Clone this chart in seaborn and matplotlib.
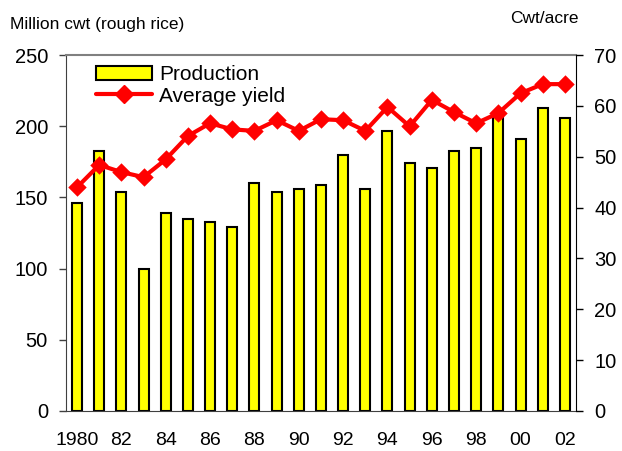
import numpy as np
import pandas as pd
import matplotlib
matplotlib.use('Agg')
import matplotlib.pyplot as plt
import seaborn as sns
from matplotlib.lines import Line2D
from matplotlib.patches import Patch

years = [str(y) for y in range(1980, 2003)]
production = [146, 183, 154, 100, 139, 135, 133, 129, 160, 154, 156, 159,
              180, 156, 197, 174, 171, 183, 185, 207, 191, 213, 206]
avg_yield = [44.0, 48.4, 47.0, 46.0, 49.5, 54.1, 56.6, 55.4, 55.1, 57.2, 55.1, 57.4,
             57.2, 55.1, 59.8, 56.0, 61.2, 58.8, 56.6, 58.6, 62.5, 64.3, 64.3]
tick_labels = ['1980', '', '82', '', '84', '', '86', '', '88', '', '90', '',
               '92', '', '94', '', '96', '', '98', '', '00', '', '02']

sns.set_style('white')
plt.rcParams['font.family'] = ['Liberation Sans', 'DejaVu Sans']
plt.rcParams['text.color'] = 'black'
plt.rcParams['xtick.color'] = 'black'
plt.rcParams['ytick.color'] = 'black'

df = pd.DataFrame({'year': years, 'production': production, 'yield': avg_yield})

fig = plt.figure(figsize=(6.22, 4.51), dpi=100)
ax = fig.add_axes([0.106, 0.0887, 0.82, 0.789])

sns.barplot(data=df, x='year', y='production', ax=ax, color='#ffff00',
            edgecolor='black', linewidth=1.5, width=0.45, saturation=1)
ax.set_ylim(0, 250)
ax.set_yticks(np.arange(0, 251, 50))
ax.set_xlim(-0.5, len(years) - 0.5)
ax.set_xlabel('')
ax.set_ylabel('')

ax2 = ax.twinx()
sns.pointplot(data=df, x='year', y='yield', ax=ax2, color='#ff0000',
              markers='D', linestyles='-', markersize=7, linewidth=3)
ax2.set_ylim(0, 70)
ax2.set_yticks(np.arange(0, 71, 10))
ax2.set_ylabel('')
ax2.set_xlim(-0.5, len(years) - 0.5)

# x ticks: labels at centres, tick marks at category boundaries
ax.set_xticks(np.arange(len(years)))
ax.set_xticklabels(tick_labels, fontsize=14)
ax.tick_params(axis='x', length=0, pad=15, labelcolor='black')
ax.set_xticks(np.arange(-0.5, len(years), 1), minor=True)
ax.tick_params(axis='x', which='minor', length=5, width=1, color='#404040', direction='out')

ax.tick_params(axis='y', labelsize=14.5, length=5, width=1, color='#404040',
               direction='out', left=True, pad=8, labelcolor='black')
ax2.tick_params(axis='y', labelsize=14.5, length=5, width=1, color='black',
                direction='out', right=True, pad=8, labelcolor='black')

for a in (ax, ax2):
    for s in a.spines.values():
        s.set_visible(False)
ax.spines['left'].set_visible(True)
ax.spines['left'].set_color('#404040')
ax.spines['bottom'].set_visible(True)
ax.spines['bottom'].set_color('#404040')
ax.spines['top'].set_visible(True)
ax.spines['top'].set_color('#808080')
ax.spines['top'].set_linewidth(1.5)
ax2.spines['right'].set_visible(True)
ax2.spines['right'].set_color('black')

handles = [Patch(facecolor='#ffff00', edgecolor='black', linewidth=1.5),
           Line2D([0], [0], color='#ff0000', lw=3, marker='D', markersize=9)]
ax2.legend(handles, ['Production', 'Average yield'], loc='upper left',
           bbox_to_anchor=(0.03, 1.012), frameon=False, fontsize=15,
           handlelength=2.7, handletextpad=0.35, labelspacing=0.1,
           borderaxespad=0.3)

fig.text(0.016, 0.945, 'Million cwt (rough rice)', fontsize=12.5, ha='left', va='center')
fig.text(0.93, 0.96, 'Cwt/acre', fontsize=12.5, ha='right', va='center')

fig.savefig('out.png', dpi=100)
